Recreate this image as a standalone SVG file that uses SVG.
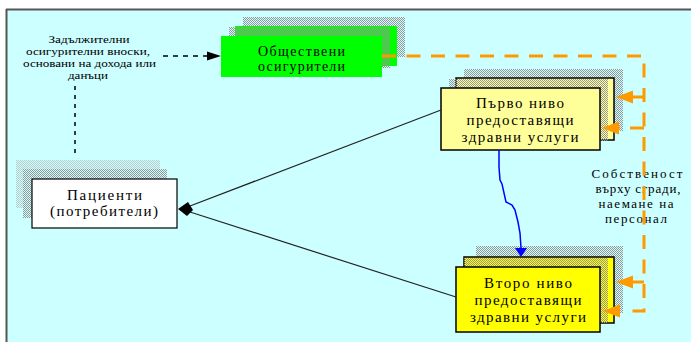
<svg xmlns="http://www.w3.org/2000/svg" width="691" height="342" viewBox="0 0 691 342">
<style>
.t{font-family:"Liberation Serif","Times New Roman",serif;fill:#000;text-anchor:middle}
.s10{font-size:10px}
.s13{font-size:13px}
.s14{font-size:14px}
.s15{font-size:15px}
.box{stroke:#000;stroke-width:1.5}
.orange{fill:none;stroke:#FF9900;stroke-width:3;stroke-dasharray:14 10.5}
.os{fill:none;stroke:#FF9900;stroke-width:3}
.oh{fill:#FF9900}
</style>
<defs>
<pattern id="st" width="2" height="2" patternUnits="userSpaceOnUse"><rect width="1" height="1" fill="#969696"/><rect x="1" y="1" width="1" height="1" fill="#969696"/></pattern>
<pattern id="stl" width="2" height="2" patternUnits="userSpaceOnUse"><rect width="1" height="1" fill="#B8CCCC"/><rect x="1" y="1" width="1" height="1" fill="#B8CCCC"/></pattern>
<path id="ah" d="M0,0 L17,-6.5 L17,6.5 z"/>
</defs>
<rect x="0" y="0" width="691" height="342" fill="#fff"/>
<rect x="7" y="10" width="684" height="332" fill="#CCFFFF"/>
<line x1="6" y1="9.5" x2="691" y2="9.5" stroke="#555" stroke-width="2"/>
<line x1="6.5" y1="9" x2="6.5" y2="342" stroke="#555" stroke-width="2"/>

<g id="label-contributions">
<text class="t s10" x="89" y="43" textLength="81" lengthAdjust="spacingAndGlyphs">Задължителни</text>
<text class="t s10" x="88" y="55" textLength="124" lengthAdjust="spacingAndGlyphs">осигурителни вноски,</text>
<text class="t s10" x="89.5" y="67" textLength="133" lengthAdjust="spacingAndGlyphs">основани на дохода или</text>
<text class="t s10" x="88" y="79" textLength="40" lengthAdjust="spacingAndGlyphs">данъци</text>
</g>

<g id="node-insurers">
<rect x="243" y="17" width="162" height="40" fill="url(#st)"/>
<rect x="235" y="26" width="162" height="40" fill="#00FF00"/>
<rect x="229" y="27" width="161" height="41" fill="url(#st)"/>
<rect x="221" y="36" width="161" height="41" fill="#00FF00"/>
<text class="t s14" x="301.5" y="56" textLength="87">Обществени</text>
<text class="t s14" x="301.5" y="71" textLength="87">осигурители</text>
</g>

<g id="node-level1">
<rect x="464" y="69" width="159" height="62" fill="url(#st)"/>
<rect class="box" x="456" y="78" width="158" height="62" fill="#FFFF99"/>
<rect x="449" y="79" width="159" height="62" fill="url(#st)"/>
<rect class="box" x="441" y="88" width="159" height="62" fill="#FFFF99"/>
<text class="t s15" x="520" y="108" textLength="88">Първо ниво</text>
<text class="t s15" x="520" y="125" textLength="107">предоставящи</text>
<text class="t s15" x="520" y="142" textLength="117">здравни услуги</text>
</g>

<g id="node-level2">
<rect x="476" y="246" width="147" height="67" fill="url(#st)"/>
<rect class="box" x="464" y="257" width="150" height="66" fill="#FFFF00"/>
<rect x="464" y="258" width="144" height="65" fill="url(#st)"/>
<rect class="box" x="456" y="267" width="144" height="65" fill="#FFFF00"/>
<text class="t s15" x="528" y="288" textLength="88">Второ ниво</text>
<text class="t s15" x="528" y="305" textLength="107">предоставящи</text>
<text class="t s15" x="528" y="322" textLength="116">здравни услуги</text>
</g>

<g id="node-patients">
<rect x="16" y="160" width="144" height="48" fill="url(#stl)"/>
<rect x="23" y="169" width="144" height="49" fill="url(#st)"/>
<rect x="32" y="179" width="145" height="49" fill="#fff" stroke="#000" stroke-width="1.2"/>
<text class="t s15" x="104.5" y="200" textLength="75">Пациенти</text>
<text class="t s15" x="104" y="216" textLength="108">(потребители)</text>
</g>

<g id="label-ownership">
<text class="t s13" x="637" y="178" textLength="91">Собственост</text>
<text class="t s13" x="638" y="193" textLength="85">върху сгради,</text>
<text class="t s13" x="636" y="208" textLength="75">наемане на</text>
<text class="t s13" x="636" y="223" textLength="62">персонал</text>
</g>

<g id="connectors">
<line x1="163" y1="56" x2="207" y2="56" stroke="#000" stroke-width="1.5" stroke-dasharray="5 5"/>
<polygon points="207,51.5 221,56 207,60.5" fill="#000"/>
<line x1="75" y1="86" x2="75" y2="158" stroke="#000" stroke-width="1.5" stroke-dasharray="4 5"/>
<path class="orange" d="M382,56 H644 V311 H630"/>
<line class="os" x1="644" y1="97" x2="632" y2="97"/>
<use href="#ah" class="oh" x="616" y="97"/>
<path class="orange" d="M644,128 H619"/>
<use href="#ah" class="oh" x="602" y="128"/>
<line class="os" x1="644" y1="282" x2="632" y2="282"/>
<use href="#ah" class="oh" x="616" y="282"/>
<use href="#ah" class="oh" x="603" y="311"/>
<path d="M499,150 L499,167 L500,180 L502,184 L506,202 L512,205 L515,210 L518,222 L520,233 L521,248" fill="none" stroke="#0000FF" stroke-width="1.5"/>
<polygon points="515,248 527,248 521,257" fill="#0000FF"/>
<line x1="441" y1="110" x2="190" y2="206" stroke="#222" stroke-width="1.2"/>
<line x1="456" y1="297" x2="190" y2="212" stroke="#222" stroke-width="1.2"/>
<polygon points="178,209 188,202 193,210 187,216" fill="#000"/>
</g>
</svg>
